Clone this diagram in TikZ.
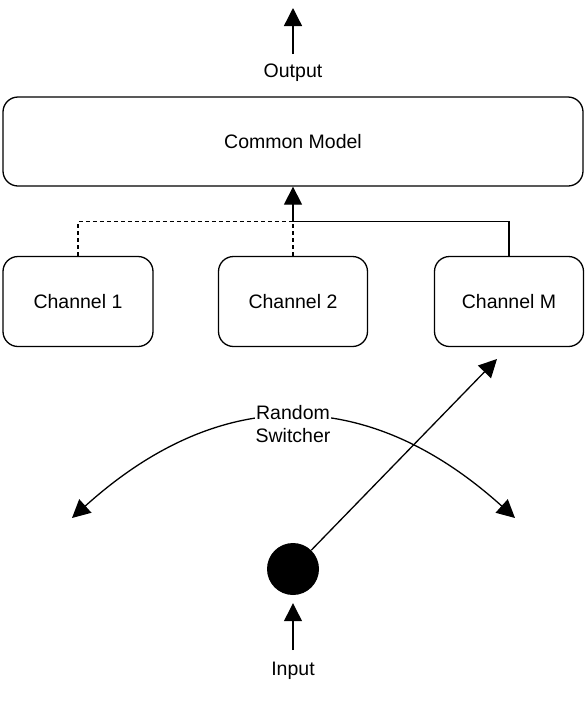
\documentclass[tikz,border=0pt]{standalone}
\usepackage{fontspec}
\setmainfont{Liberation Sans}
\usetikzlibrary{arrows.meta}
\begin{document}
\begin{tikzpicture}[x=1pt,y=-1pt,
  every node/.style={font=\fontsize{19.5}{23}\selectfont},
  box/.style={draw,line width=1.3pt,rounded corners=15pt,inner sep=0pt},
  conn/.style={line width=1.3pt},
  dashconn/.style={line width=1.3pt,dash pattern=on 4pt off 3pt},
  arr/.style={line width=1.3pt,-{Triangle[width=18pt,length=18pt]}},
  dblarr/.style={line width=1.3pt,{Triangle[width=18pt,length=18pt]}-{Triangle[width=18pt,length=18pt]}},
  dotstyle/.style={circle,fill=black,minimum size=52pt,inner sep=0pt}]
\useasboundingbox (0,0) rectangle (588,710);
% top
\node[box,minimum width=580pt,minimum height=89pt] (common) at (293,141.5) {Common Model};
\node[inner sep=0pt] (outlabel) at (293,73) {Output};
\coordinate (obase) at (293,54);
\coordinate (otip) at (293,8);
\draw[arr] (obase) -- (otip);
% channels
\node[box,minimum width=150pt,minimum height=90pt] (c1) at (78,301.5) {Channel 1};
\node[box,minimum width=149pt,minimum height=90pt] (c2) at (293,301.5) {Channel 2};
\node[box,minimum width=149pt,minimum height=90pt] (cm) at (509,301.5) {Channel M};
\coordinate (j) at (293,221.7);
\draw[dashconn] (c1.north) |- (j);
\draw[dashconn] (c2.north) -- (j);
\draw[conn] (cm.north) |- (j);
\draw[arr] (j) -- (common.south);
% switcher
\coordinate (swl) at (72,518);
\coordinate (swr) at (515,518);
\draw[dblarr] (swl) .. controls (219.7,384.7) and (367.3,384.7) .. (swr);
\node[fill=white,align=center,inner sep=1pt] (sw) at (293,424) {Random\\Switcher};
\node[dotstyle] (dot) at (293,569) {};
\coordinate (swtip) at (497,359);
\draw[arr] (dot) -- (swtip);
% input
\node[inner sep=0pt] (inlabel) at (293,671) {Input};
\coordinate (ibase) at (293,650);
\draw[arr] (ibase) -- ([yshift=-8pt]dot.south);
\end{tikzpicture}
\end{document}
